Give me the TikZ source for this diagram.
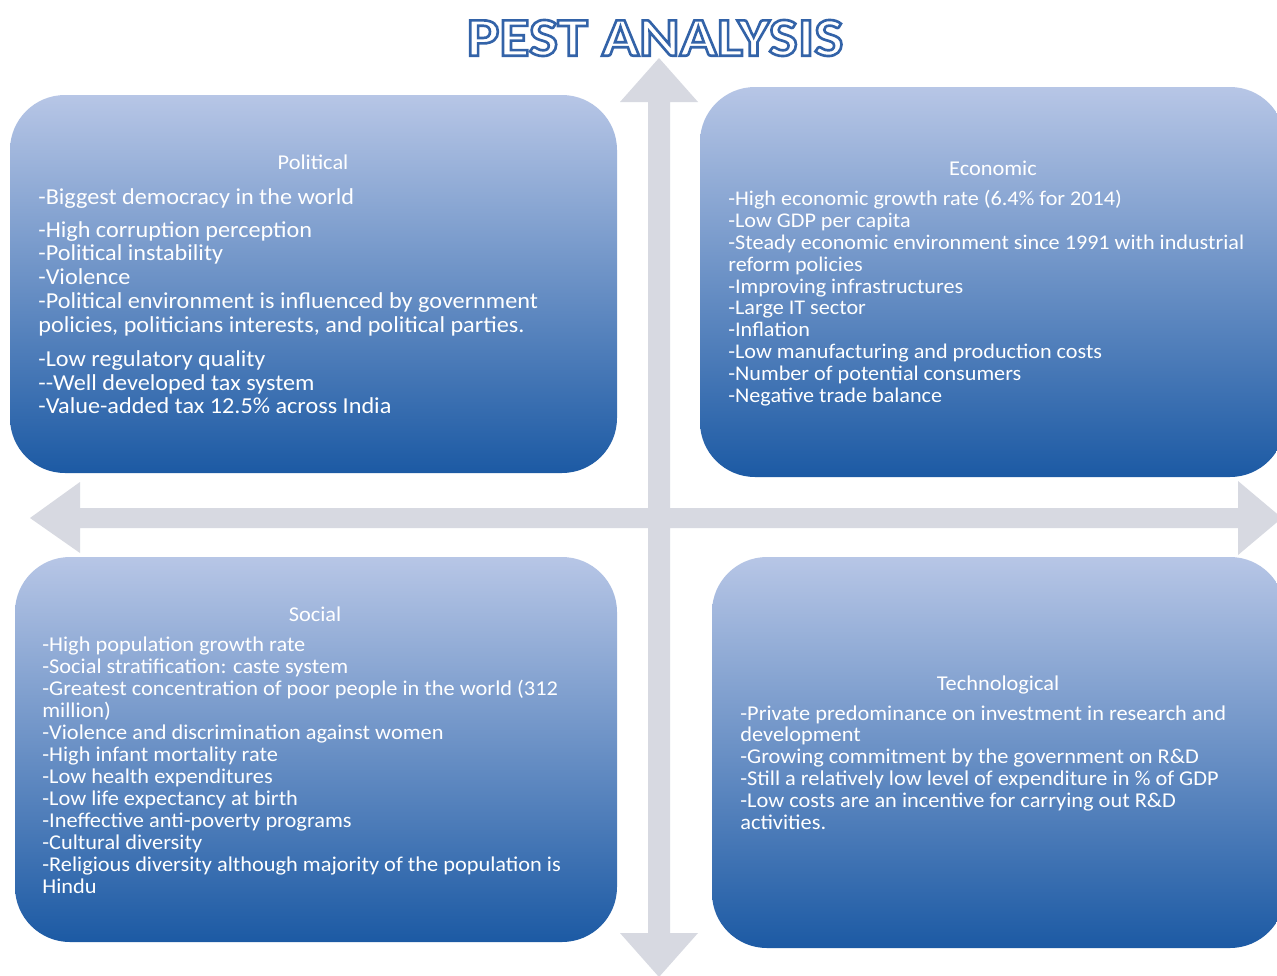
\documentclass[tikz,border=0pt]{standalone}
\usepackage{fontspec}
\setmainfont{Carlito}[FakeStretch=1.06]
\newfontfamily\titlefont{Carlito}[FakeStretch=1.13]
\usepackage{tikz}
\usetikzlibrary{positioning}

\definecolor{boxtop}{HTML}{B7C6E6}
\definecolor{boxmid}{HTML}{6F92C9}
\definecolor{boxbot}{HTML}{1C5AA4}
\definecolor{arrowgray}{HTML}{D7D9E1}

\def\px{0.2mm}
% outlined title text: white fill, blue stroke
\newcommand\outlined[1]{{\color{white}\special{pdf:literal direct 0.20 0.39 0.66 RG 1.5 w 2 Tr}#1\special{pdf:literal direct 0 Tr}}}

\begin{document}
\begin{tikzpicture}[x=0.2mm,y=-0.2mm,
  box/.style={rectangle,rounded corners=11mm,top color=boxtop,middle color=boxmid,bottom color=boxbot,inner sep=0pt},
  head/.style={text=white,font=\fontsize{12}{12.5}\selectfont,inner sep=0pt,anchor=base},
  items/.style={text=white,align=left,inner sep=0pt,anchor=north west},
  cross/.style={fill=arrowgray,draw=none}]
\useasboundingbox (0,0) rectangle (1277,975);
\clip (0,0) rectangle (1277,975);
\fill[white] (0,0) rectangle (1277,975);

% grey cross of arrows
\path[cross] (659,58) -- (698,102) -- (670,102) -- (670,508) -- (1238,508) -- (1238,481)
  -- (1282,518) -- (1238,555) -- (1238,528) -- (670,528) -- (670,933) -- (698,933)
  -- (659,977) -- (620,933) -- (648,933) -- (648,528) -- (80,528) -- (80,553)
  -- (30,518) -- (80,482) -- (80,508) -- (648,508) -- (648,102) -- (620,102) -- cycle;

% title
\node (ttl) at (655,38) {\titlefont\bfseries\fontsize{31}{31}\selectfont\outlined{PEST ANALYSIS}};

% quadrants
\node[box,minimum width=607*\px,minimum height=378*\px] (pol) at (313.5,284) {};
\node[box,minimum width=585*\px,minimum height=390*\px] (eco) at (992.5,282) {};
\node[box,minimum width=602*\px,minimum height=385*\px] (soc) at (316,749.5) {};
\node[box,minimum width=573*\px,minimum height=391*\px] (tec) at (998.5,752.5) {};

\node[head] (polHead) at (313,169) {Political};
\node[head] (ecoHead) at (993,175) {Economic};
\node[head] (socHead) at (315,621) {Social};
\node[head] (tecHead) at (998,690) {Technological};

\node[items,font=\fontsize{13}{13.5}\selectfont] (polText) at (38,188.5) {%
-Biggest democracy in the world\\[5pt]
-High corruption perception\\
-Political instability\\
-Violence\\
-Political environment is influenced by government\\
policies, politicians interests, and political parties.\\[6pt]
-Low regulatory quality\\
-{}-Well developed tax system\\
-Value-added tax 12.5\% across India};

\node[items,font=\fontsize{11.9}{12.5}\selectfont] (ecoText) at (728,189.5) {%
-High economic growth rate (6.4\% for 2014)\\
-Low GDP per capita\\
-Steady economic environment since 1991 with industrial\\
reform policies\\
-Improving infrastructures\\
-Large IT sector\\
-Inflation\\
-Low manufacturing and production costs\\
-Number of potential consumers\\
-Negative trade balance};

\node[items,font=\fontsize{12}{12.55}\selectfont] (socText) at (42,636) {%
-High population growth rate\\
-Social stratification: caste system\\
-Greatest concentration of poor people in the world (312\\
million)\\
-Violence and discrimination against women\\
-High infant mortality rate\\
-Low health expenditures\\
-Low life expectancy at birth\\
-Ineffective anti-poverty programs\\
-Cultural diversity\\
-Religious diversity although majority of the population is\\
Hindu};

\node[items,font=\fontsize{12}{12.5}\selectfont] (tecText) at (740,705) {%
-Private predominance on investment in research and\\
development\\
-Growing commitment by the government on R\&D\\
-Still a relatively low level of expenditure in \% of GDP\\
-Low costs are an incentive for carrying out R\&D\\
activities.};
\end{tikzpicture}
\end{document}
